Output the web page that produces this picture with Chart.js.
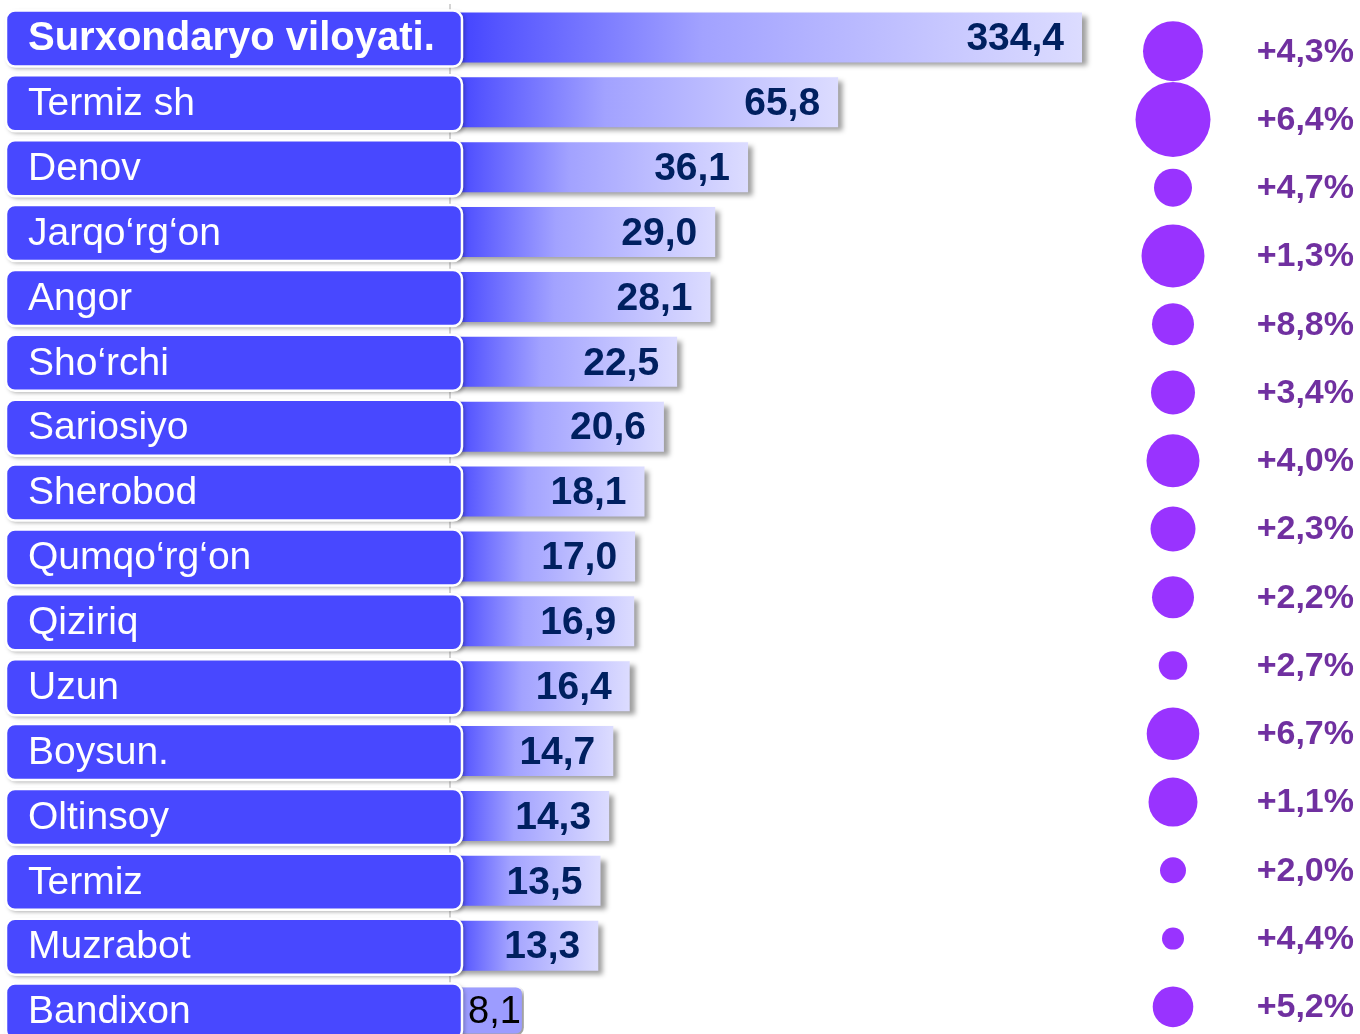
<!DOCTYPE html>
<html>
<head>
<meta charset="utf-8">
<script src="https://cdn.jsdelivr.net/npm/chart.js@4.4.1/dist/chart.umd.min.js"></script>
<style>
  html, body { margin: 0; padding: 0; background: #ffffff; overflow: hidden; width: 1360px; height: 1034px; }
  #bars { position: absolute; left: 0; top: 0; }
  #bubbles { position: absolute; left: 1100px; top: 0; }
</style>
</head>
<body>
<canvas id="bars" width="1100" height="1045"></canvas>
<canvas id="bubbles" width="260" height="1045"></canvas>
<script>
// ---- data ----
const categories = ['Surxondaryo viloyati.', 'Termiz sh', 'Denov', 'Jarqo\u2018rg\u2018on', 'Angor', 'Sho\u2018rchi',
  'Sariosiyo', 'Sherobod', 'Qumqo\u2018rg\u2018on', 'Qiziriq', 'Uzun', 'Boysun.', 'Oltinsoy', 'Termiz', 'Muzrabot', 'Bandixon'];
const values = [334.4, 65.8, 36.1, 29.0, 28.1, 22.5, 20.6, 18.1, 17.0, 16.9, 16.4, 14.7, 14.3, 13.5, 13.3, 8.1];
const growth = [4.3, 6.4, 4.7, 1.3, 8.8, 3.4, 4.0, 2.3, 2.2, 2.7, 6.7, 1.1, 2.0, 4.4, 5.2];
const bubbleSizes = [30, 37.5, 19, 31.5, 21, 22, 26.5, 22.5, 21, 14.3, 26.3, 24.5, 13, 11, 20.3];

const FONT = "'Liberation Sans', Arial, sans-serif";
const fmt = v => v.toFixed(1).replace('.', ',');
const lastIdx = values.length - 1;

// shadow under the bars
const barShadow = {
  id: 'barShadow',
  beforeDatasetDraw(chart) {
    const c = chart.ctx;
    c.save();
    c.shadowColor = 'rgba(0,0,0,0.38)';
    c.shadowBlur = 5;
    c.shadowOffsetX = 5;
    c.shadowOffsetY = 4;
  },
  afterDatasetDraw(chart) { chart.ctx.restore(); }
};

// label boxes on the left and value labels on the bars
const labelBoxes = {
  id: 'labelBoxes',
  afterDatasetsDraw(chart) {
    const c = chart.ctx;
    const meta = chart.getDatasetMeta(0);
    const boxL = 6, boxR = 462, boxH = 56;
    meta.data.forEach((bar, i) => {
      const cy = bar.y + 1;
      c.save();
      c.shadowColor = 'rgba(0,0,0,0.35)';
      c.shadowBlur = 4;
      c.shadowOffsetX = 2;
      c.shadowOffsetY = 2;
      c.beginPath();
      c.roundRect(boxL, cy - boxH / 2, boxR - boxL, boxH, 9);
      c.fillStyle = '#4848ff';
      c.fill();
      c.restore();
      c.save();
      c.beginPath();
      c.roundRect(boxL, cy - boxH / 2, boxR - boxL, boxH, 9);
      c.lineWidth = 2.5;
      c.strokeStyle = '#ffffff';
      c.stroke();
      c.fillStyle = '#ffffff';
      c.font = (i === 0 ? 'bold 40px ' : '39px ') + FONT;
      c.textBaseline = 'middle';
      c.textAlign = 'left';
      c.fillText(categories[i], boxL + 22, cy + 1);
      c.restore();
    });
    // value labels
    meta.data.forEach((bar, i) => {
      c.save();
      const isLast = i === lastIdx;
      c.font = (isLast ? '38px ' : 'bold 39px ') + FONT;
      c.fillStyle = isLast ? '#000000' : '#002060';
      c.textBaseline = 'middle';
      const txt = fmt(values[i]);
      const w = c.measureText(txt).width;
      let x = bar.x - 18 - w;
      if (x < boxR + 6) x = boxR + 6;
      c.textAlign = 'left';
      c.fillText(txt, x, bar.y + 2);
      c.restore();
    });
  }
};

function barFill(ctx) {
  const chart = ctx.chart;
  const xs = chart.scales.x;
  if (ctx.type !== 'data' || !chart.chartArea || !xs) return '#8c8cff';
  if (ctx.dataIndex === lastIdx) return '#9c9cff';
  const x0 = xs.getPixelForValue(xs.min);
  const x1 = xs.getPixelForValue(ctx.raw);
  if (!isFinite(x0) || !isFinite(x1) || x1 <= x0) return '#8c8cff';
  const g = chart.ctx.createLinearGradient(x0, 0, x1, 0);
  g.addColorStop(0, '#4040ff');
  g.addColorStop(0.08, '#5656ff');
  g.addColorStop(0.4, '#a2a2ff');
  g.addColorStop(1, '#dcdcff');
  return g;
}

new Chart(document.getElementById('bars'), {
  type: 'bar',
  data: {
    labels: categories,
    datasets: [{
      data: values,
      backgroundColor: barFill,
      borderColor: (ctx) => ctx.dataIndex === lastIdx ? '#ffffff' : 'rgba(0,0,0,0)',
      borderWidth: (ctx) => ctx.dataIndex === lastIdx ? 2 : 0,
      borderRadius: (ctx) => ctx.dataIndex === lastIdx ? 8 : 0,
      barPercentage: 0.77,
      categoryPercentage: 1,
      clip: false
    }]
  },
  options: {
    indexAxis: 'y',
    responsive: false,
    animation: false,
    events: [],
    layout: { autoPadding: false, padding: { left: 450, right: 18, top: 5, bottom: 2 } },
    scales: {
      x: { type: 'logarithmic', min: 4.95, max: Math.max(...values), display: false },
      y: {
        display: true,
        ticks: { display: false },
        grid: { display: false, drawTicks: false },
        border: { display: true, color: '#d4d4d4', width: 2 }
      }
    },
    plugins: { legend: { display: false }, tooltip: { enabled: false } }
  },
  plugins: [barShadow, labelBoxes]
});

// growth bubbles and percentage labels
const pctLabels = {
  id: 'pctLabels',
  afterDatasetsDraw(chart) {
    const c = chart.ctx;
    const meta = chart.getDatasetMeta(0);
    c.save();
    c.font = 'bold 34px ' + FONT;
    c.fillStyle = '#7030a0';
    c.textAlign = 'right';
    c.textBaseline = 'middle';
    meta.data.forEach((pt, i) => {
      c.fillText('+' + fmt(growth[i]) + '%', 254, pt.y + 1);
    });
    c.restore();
  }
};

new Chart(document.getElementById('bubbles'), {
  type: 'bubble',
  data: {
    datasets: [{
      data: bubbleSizes.map((r, i) => ({ x: 0, y: i, r: r })),
      backgroundColor: '#9933ff',
      borderWidth: 0,
      clip: false
    }]
  },
  options: {
    responsive: false,
    animation: false,
    events: [],
    layout: { autoPadding: false, padding: { left: 0, right: 114, top: 17, bottom: 4 } },
    scales: {
      x: { min: -1, max: 1, display: false },
      y: { min: -0.5, max: growth.length - 0.5, reverse: true, display: false }
    },
    plugins: { legend: { display: false }, tooltip: { enabled: false } }
  },
  plugins: [pctLabels]
});
</script>
</body>
</html>
